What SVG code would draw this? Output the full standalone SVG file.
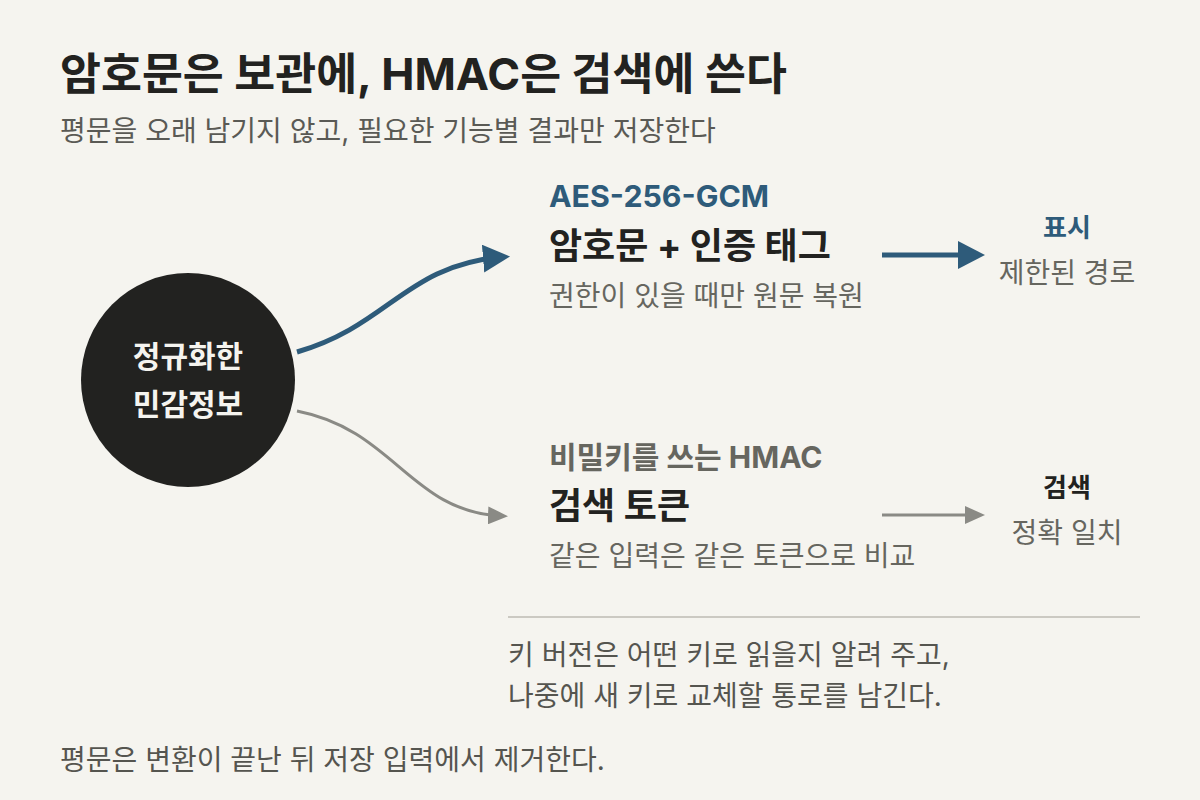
<svg xmlns="http://www.w3.org/2000/svg" width="1200" height="800" viewBox="0 0 1200 800">
<defs>
<style>
text{font-family:Inter,"Noto Sans CJK KR","Noto Sans",sans-serif;}
.title{font-size:44.5px;font-weight:700;fill:#222220;}
.sub{font-size:28px;fill:#5a5a55;}
.body{font-size:28px;fill:#66665f;}
.head{font-size:36px;font-weight:700;fill:#222220;}
.tag{font-size:30px;font-weight:700;}
.aes{font-size:30.3px;font-weight:700;fill:#2e5b7a;}
.small{font-size:26px;font-weight:700;}
.note{font-size:28px;fill:#55554f;}
.node{font-size:30px;font-weight:700;fill:#f5f4ef;}
</style>
<marker id="ab" markerUnits="userSpaceOnUse" markerWidth="27" markerHeight="28" viewBox="0 0 27 28" refX="20" refY="14" orient="auto"><path d="M0,0 L27,14 L0,28 Z" fill="#2e5b7a"/></marker>
<marker id="ag" markerUnits="userSpaceOnUse" markerWidth="20" markerHeight="18" viewBox="0 0 20 18" refX="14" refY="9" orient="auto"><path d="M0,0 L20,9 L0,18 Z" fill="#8a8a85"/></marker>
</defs>
<rect width="1200" height="800" fill="#f5f4ef"/>
<g id="header">
<text class="title" x="60" y="90">암호문은 보관에, HMAC은 검색에 쓴다</text>
<text class="sub" x="60" y="141">평문을 오래 남기지 않고, 필요한 기능별 결과만 저장한다</text>
</g>
<g id="connectors" fill="none">
<path d="M297,352 C390,325 405,265 503,257" stroke="#2e5b7a" stroke-width="5" marker-end="url(#ab)"/>
<path d="M297,411 C395,430 410,512 502,516" stroke="#8a8a85" stroke-width="3" marker-end="url(#ag)"/>
<path d="M882,255 L978,255" stroke="#2e5b7a" stroke-width="5" marker-end="url(#ab)"/>
<path d="M882,515 L979,515" stroke="#8a8a85" stroke-width="3" marker-end="url(#ag)"/>
</g>
<g id="source">
<circle cx="188" cy="380" r="107" fill="#222220"/>
<text class="node" x="188" y="367" text-anchor="middle">정규화한</text>
<text class="node" x="188" y="415" text-anchor="middle">민감정보</text>
</g>
<g id="cipher">
<text class="aes" x="549" y="207">AES-256-GCM</text>
<text class="head" x="549" y="259">암호문 + 인증 태그</text>
<text class="body" x="549" y="306">권한이 있을 때만 원문 복원</text>
</g>
<g id="hmac">
<text class="tag" x="549" y="468" fill="#66665f">비밀키를 쓰는 HMAC</text>
<text class="head" x="549" y="519">검색 토큰</text>
<text class="body" x="549" y="566">같은 입력은 같은 토큰으로 비교</text>
</g>
<g id="display">
<text class="small" x="1067" y="237" text-anchor="middle" fill="#2e5b7a">표시</text>
<text class="body" x="1067" y="283" text-anchor="middle">제한된 경로</text>
</g>
<g id="search">
<text class="small" x="1067" y="497" text-anchor="middle" fill="#222220">검색</text>
<text class="body" x="1067" y="543" text-anchor="middle">정확 일치</text>
</g>
<g id="keynote">
<line x1="508" y1="617" x2="1140" y2="617" stroke="#cbc9c2" stroke-width="2"/>
<text class="note" x="508" y="665">키 버전은 어떤 키로 읽을지 알려 주고,</text>
<text class="note" x="508" y="706">나중에 새 키로 교체할 통로를 남긴다.</text>
</g>
<g id="footer">
<text class="note" x="60" y="770">평문은 변환이 끝난 뒤 저장 입력에서 제거한다.</text>
</g>
</svg>
